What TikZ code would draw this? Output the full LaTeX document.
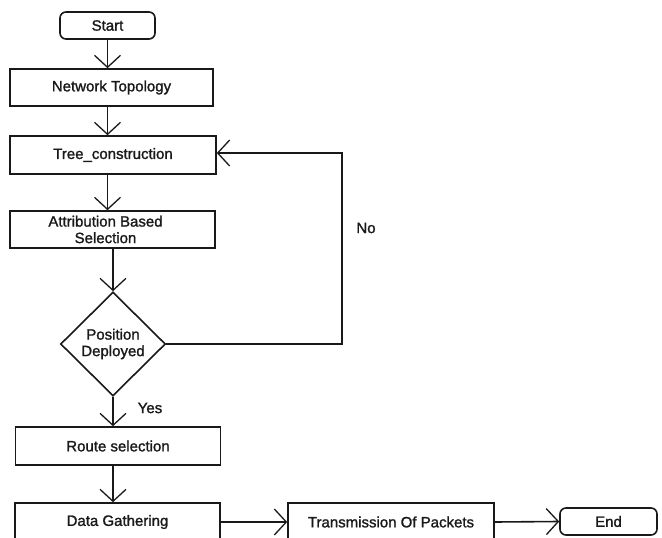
\documentclass[tikz,border=0pt]{standalone}
\usepackage{fontspec}
\setmainfont[FakeBold=1.3]{Liberation Sans}
\usetikzlibrary{shapes.geometric,arrows.meta}
\begin{document}
\begin{tikzpicture}[x=1pt,y=-1pt,
  every node/.style={font=\fontsize{15}{16.5}\selectfont, text=black!90},
  box/.style={draw=black!90, line width=1.6pt, rectangle, inner sep=0pt, align=center},
  term/.style={box, rounded corners=6pt},
  decision/.style={draw=black!90, line width=1.6pt, diamond, inner sep=0pt, align=center, minimum width=105pt, minimum height=104pt},
  arr/.style={draw=black!90, line width=1.6pt, -{Straight Barb[length=12pt,width=26pt,line width=1.3pt]}},
  conn/.style={draw=black!90, line width=1.6pt}
]
\useasboundingbox (0,0) rectangle (662,538);
\clip (0,0) rectangle (662,538);
\fill[white] (0,0) rectangle (662,538);

\node[term, minimum width=95pt, minimum height=27pt] (start) at (107.5,25.5) {Start};
\node[box, minimum width=203pt, minimum height=37pt] (net) at (111.5,87.5) {Network Topology};
\node[box, minimum width=206pt, minimum height=38pt] (tree) at (113,155) {Tree\_construction};
\node[box, minimum width=205pt, minimum height=37pt] (attr) at (112.5,229.5) {\hspace*{-14pt}Attribution Based\\\hspace*{-14pt}Selection};
\node[decision] (dia) at (113,344) {Position\\Deployed};
\node[box, minimum width=205pt, minimum height=38pt] (route) at (118,446) {Route selection};
\node[box, minimum width=205pt, minimum height=38pt] (data) at (117.5,522) {Data Gathering};
\node[box, minimum width=206pt, minimum height=38pt] (trans) at (391,522) {Transmission Of Packets};
\node[term, minimum width=97pt, minimum height=27pt] (end) at (608.5,521.5) {End};

\coordinate (loopc) at (342,153);

\draw[arr] (start.south) -- (start.south |- net.north);
\draw[arr] (start.south |- net.south) -- (start.south |- tree.north);
\draw[arr] (start.south |- tree.south) -- (start.south |- attr.north);
\draw[arr] (dia.north |- attr.south) -- (dia.north);
\draw[arr] (dia.south) -- (dia.south |- route.north);
\draw[arr] (dia.south |- route.south) -- (dia.south |- data.north);
\draw[arr] (data.east) -- (trans.west);
\draw[arr] (trans.east) -- (end.west);
\draw[arr] (dia.east) -| (loopc) -- (loopc -| tree.east);

\node (no) at (366,228) {No};
\node (yes) at (150,408) {Yes};
\end{tikzpicture}
\end{document}
